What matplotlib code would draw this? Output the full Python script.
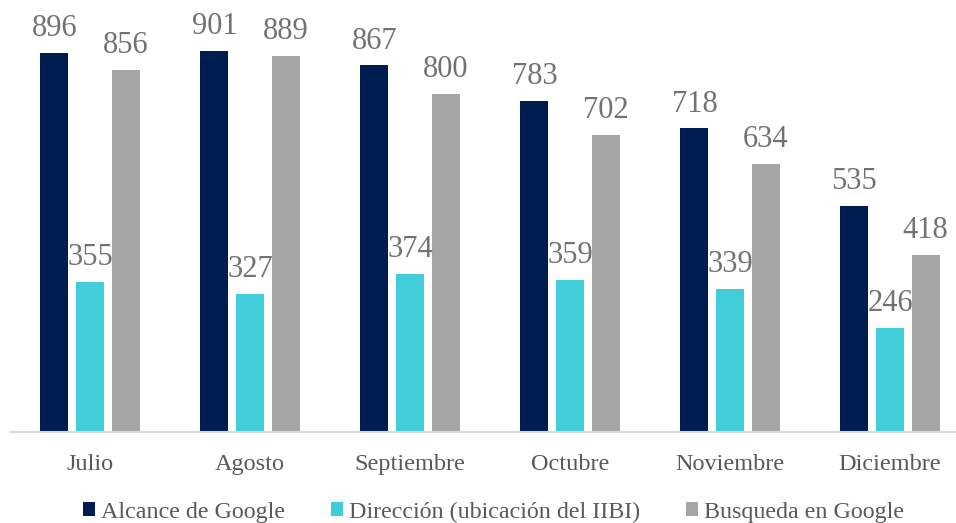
import numpy as np
import matplotlib.pyplot as plt

months = ['Julio', 'Agosto', 'Septiembre', 'Octubre', 'Noviembre', 'Diciembre']
alcance = [896, 901, 867, 783, 718, 535]
direccion = [355, 327, 374, 359, 339, 246]
busqueda = [856, 889, 800, 702, 634, 418]
series_names = ['Alcance de Google', 'Dirección (ubicación del IIBI)', 'Busqueda en Google']
colors = ['#001D52', '#41CDDA', '#A5A5A5']

plt.rcParams['font.family'] = ['Liberation Serif', 'DejaVu Serif']

fig = plt.figure(figsize=(9.56, 5.23), dpi=100)
ax = fig.add_axes([10 / 956, 1 - 432 / 523, 946 / 956, 423 / 523])

x = np.arange(len(months))
w = 0.175
step = 0.222
text_col = '#767171'
for i, (vals, c, name) in enumerate(zip([alcance, direccion, busqueda], colors, series_names)):
    pos = x + (i - 1) * step
    ax.bar(pos, vals, width=w, color=c, label=name)
    for p, v in zip(pos, vals):
        ax.text(p, v + 23, str(v), ha='center', va='bottom', fontsize=22,
                color=text_col, clip_on=False)

ax.set_xlim(-0.5, -0.5 + 946 / 160)
ax.set_ylim(0, 1000)
ax.set_xticks(x)
ax.set_xticklabels(months, fontsize=17.5, color='#595959')
ax.tick_params(axis='x', length=0, pad=16)
ax.set_yticks([])
for s in ['top', 'right', 'left']:
    ax.spines[s].set_visible(False)
ax.spines['bottom'].set_color('#D9D9D9')
ax.spines['bottom'].set_linewidth(1.5)

leg = fig.legend(loc='center', bbox_to_anchor=(0.516, 1 - 512 / 523), ncol=3,
                 frameon=False, prop={'family': 'Liberation Serif', 'size': 17.3},
                 handlelength=0.5, handleheight=0.5,
                 handletextpad=0.25, columnspacing=1.9)
for t in leg.get_texts():
    t.set_color('#595959')

fig.savefig('out.png', dpi=100)
